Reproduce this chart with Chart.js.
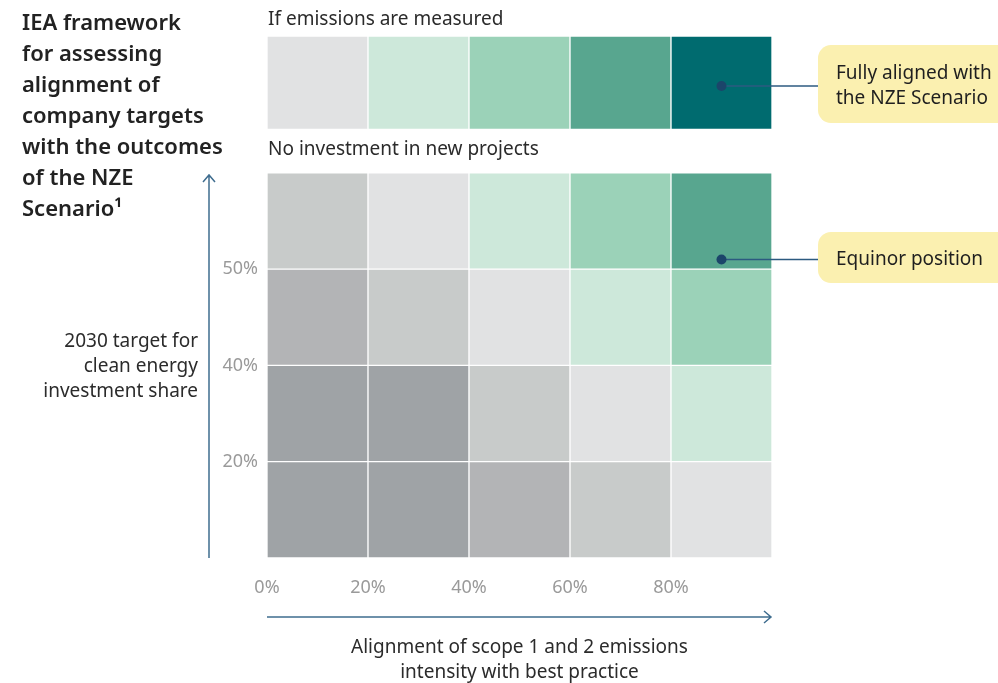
<!DOCTYPE html>
<html>
<head>
<meta charset="utf-8">
<script src="https://cdn.jsdelivr.net/npm/chart.js@4.4.0/dist/chart.umd.min.js"></script>
<style>
  html, body { margin: 0; padding: 0; background: #ffffff; }
  #wrap { width: 998px; height: 683px; position: relative; }
</style>
</head>
<body>
<div id="wrap"><canvas id="c"></canvas></div>
<script>
// ---------- data ----------
const columns = ['0-20%', '20-40%', '40-60%', '60-80%', '80-100%'];
const xTickValues = [0, 20, 40, 60, 80];
const xTickLabels = ['0%', '20%', '40%', '60%', '80%'];
const yTickValues = [1, 2, 3];
const yTickLabels = ['20%', '40%', '50%'];
// alignment level of each cell (0 = least aligned, 7 = fully aligned)
const row1Levels = [0, 0, 1, 2, 3];   // < 20%
const row2Levels = [0, 0, 2, 3, 4];   // 20-40%
const row3Levels = [1, 2, 3, 4, 5];   // 40-50%
const row4Levels = [2, 3, 4, 5, 6];   // > 50%
const topLevels  = [3, 4, 5, 6, 7];   // if emissions are measured
const rowSpans = [[0, 1], [1, 2], [2, 3], [3, 4], [4.45, 5.42]];
const calloutTexts = [['Fully aligned with', 'the NZE Scenario'], ['Equinor position']];
const calloutColumns = [4, 4];
const calloutYValues = [4.9, 3.1];

// ---------- style ----------
const palette = ['#9fa3a6', '#b3b4b6', '#c8cbca', '#e1e2e3', '#cde8da', '#9bd2b8', '#58a68f', '#006b6f'];
const FONT = '"Noto Sans", Lato, sans-serif';

const levelRows = [row1Levels, row2Levels, row3Levels, row4Levels, topLevels];
const datasets = levelRows.map((levels, i) => ({
  data: columns.map(() => rowSpans[i].slice()),
  backgroundColor: levels.map(l => palette[l]),
  borderColor: '#ffffff',
  borderWidth: 1,
  borderSkipped: false,
  grouped: false,
  categoryPercentage: 1,
  barPercentage: 1,
  xAxisID: 'x',
  yAxisID: 'y'
}));

const decor = {
  id: 'decor',
  afterDraw(chart) {
    const ctx = chart.ctx;
    const xs = chart.scales.x, ys = chart.scales.y;
    const ca = chart.chartArea;
    ctx.save();
    ctx.textBaseline = 'middle';
    // title
    ctx.fillStyle = '#222222';
    ctx.font = '600 22px ' + FONT;
    ctx.textAlign = 'left';
    const title = ['IEA framework', 'for assessing', 'alignment of', 'company targets', 'with the outcomes', 'of the NZE', 'Scenario\u00B9'];
    title.forEach((t, i) => ctx.fillText(t, 22, 24 + i * 31));
    // section labels
    ctx.font = '19px ' + FONT;
    ctx.fillStyle = '#2b2b2b';
    ctx.fillText('If emissions are measured', ca.left + 1, 20);
    ctx.fillText('No investment in new projects', ca.left + 1, 150);
    // y-axis title
    ctx.textAlign = 'right';
    ['2030 target for', 'clean energy', 'investment share'].forEach((t, i) => ctx.fillText(t, 198, 342 + i * 25));
    // x-axis title
    ctx.textAlign = 'center';
    const cx = (ca.left + ca.right) / 2;
    ['Alignment of scope 1 and 2 emissions', 'intensity with best practice'].forEach((t, i) => ctx.fillText(t, cx, 648 + i * 25));
    // arrows
    ctx.strokeStyle = '#3f6d8f';
    ctx.lineWidth = 1.5;
    ctx.beginPath();
    ctx.moveTo(209, ca.bottom); ctx.lineTo(209, 175);
    ctx.moveTo(203, 182); ctx.lineTo(209, 175); ctx.lineTo(215, 182);
    ctx.moveTo(ca.left, 617); ctx.lineTo(ca.right - 1, 617);
    ctx.moveTo(ca.right - 8, 611); ctx.lineTo(ca.right - 1, 617); ctx.lineTo(ca.right - 8, 623);
    ctx.stroke();
    // callouts
    calloutTexts.forEach((lines, i) => {
      const px = xs.getPixelForValue(calloutColumns[i]);
      const py = ys.getPixelForValue(calloutYValues[i]);
      const bx = 818;
      const bh = lines.length === 2 ? 78 : 51;
      const by = py - bh / 2 - 2;
      ctx.fillStyle = '#fbf0b0';
      ctx.beginPath();
      ctx.roundRect(bx, by, 200, bh, 13);
      ctx.fill();
      ctx.strokeStyle = '#2c5a80';
      ctx.lineWidth = 1.5;
      ctx.beginPath();
      ctx.moveTo(px, py); ctx.lineTo(bx, py);
      ctx.stroke();
      ctx.fillStyle = '#1b456a';
      ctx.beginPath();
      ctx.arc(px, py, 5, 0, Math.PI * 2);
      ctx.fill();
      ctx.fillStyle = '#1f1f1f';
      ctx.font = '19px ' + FONT;
      ctx.textAlign = 'left';
      lines.forEach((t, j) => ctx.fillText(t, 836, by + bh / 2 + 2 + (j - (lines.length - 1) / 2) * 25));
    });
    ctx.restore();
  }
};

new Chart(document.getElementById('c'), {
  type: 'bar',
  data: { labels: columns, datasets },
  options: {
    responsive: true,
    maintainAspectRatio: false,
    animation: false,
    layout: { padding: { left: 0, right: 226, top: 36, bottom: 0 } },
    plugins: { legend: { display: false }, tooltip: { enabled: false } },
    scales: {
      x: { type: 'category', display: false, offset: true },
      xt: {
        type: 'linear', position: 'bottom', min: 0, max: 100, offset: false,
        grid: { display: false, drawTicks: false, offset: false }, border: { display: false },
        afterBuildTicks: s => { s.ticks = xTickValues.map(v => ({ value: v })); },
        afterFit: s => { s.height = 125; },
        ticks: {
          color: '#9a9a9a', font: { family: FONT, size: 18 }, padding: 19,
          maxRotation: 0, autoSkip: false,
          callback: (v) => { const k = xTickValues.indexOf(v); return k >= 0 ? xTickLabels[k] : ''; }
        }
      },
      y: {
        type: 'linear', min: 0, max: 5.42,
        grid: { display: false, drawTicks: false }, border: { display: false },
        afterBuildTicks: s => { s.ticks = yTickValues.map(v => ({ value: v })); },
        afterFit: s => { s.width = 267; },
        ticks: {
          color: '#9a9a9a', font: { family: FONT, size: 18 }, padding: 9,
          autoSkip: false,
          callback: (v) => { const k = yTickValues.indexOf(v); return k >= 0 ? yTickLabels[k] : ''; }
        }
      }
    }
  },
  plugins: [decor]
});
</script>
</body>
</html>
